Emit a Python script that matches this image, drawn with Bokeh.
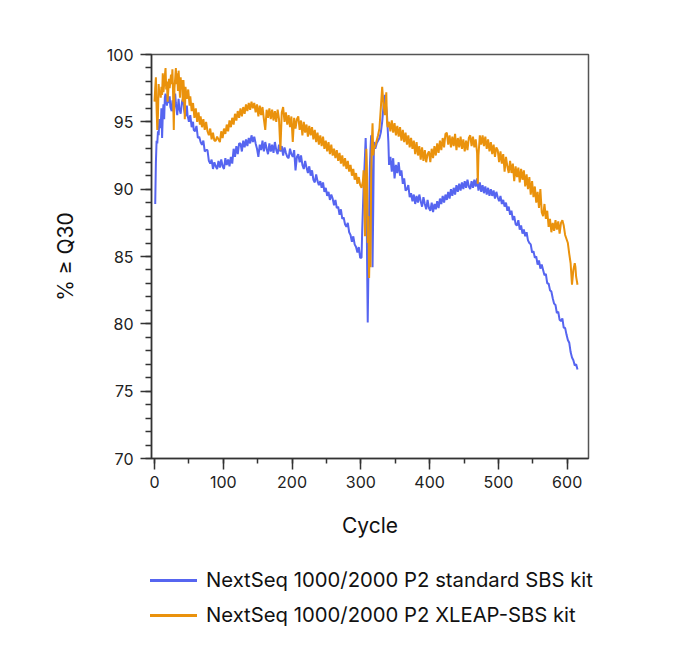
from bokeh.plotting import figure
from bokeh.layouts import column
from bokeh.models import Range1d, FixedTicker, Div
from bokeh.embed import file_html
from bokeh.resources import INLINE

# NextSeq 1000/2000 P2 standard SBS kit (blue): (cycle, % >= Q30)
std_points = [
    (1,88.9),(2,92.0),(3,93.6),(4,93.4),(5,94.3),(6,94.0),(7,95.2),(8,94.6),(9,94.6),(10,96.0),
    (11,93.8),(12,95.5),(13,96.3),(14,95.2),(15,96.8),(16,97.1),(18,96.2),(19,97.0),(20,96.4),(22,96.9),
    (23,96.1),(25,95.8),(26,96.6),(28,95.7),(30,97.1),(31,96.4),(33,95.5),(35,96.7),(36,96.0),(38,95.6),
    (40,96.5),(42,96.8),(43,95.9),(45,95.4),(47,96.2),(48,95.5),(50,95.0),(52,95.5),(54,94.6),(56,95.0),
    (57,94.4),(59,94.3),(61,94.7),(63,93.8),(65,93.9),(67,93.5),(69,93.3),(71,93.6),(73,92.8),(75,92.9),
    (77,92.9),(79,92.1),(81,91.9),(83,92.2),(85,91.5),(87,92.0),(89,91.7),(91,91.5),(93,92.1),(95,91.6),
    (97,92.2),(99,91.7),(101,91.5),(103,92.3),(105,91.8),(107,92.2),(109,91.7),(111,92.4),(113,91.9),(115,93.0),
    (117,92.4),(119,93.2),(121,92.6),(123,93.4),(125,93.4),(127,92.8),(129,93.6),(131,93.1),(133,93.7),(135,93.2),
    (137,93.8),(139,93.4),(141,94.0),(143,93.5),(145,93.9),(147,93.4),(149,93.0),(151,92.4),(153,93.3),(155,92.9),
    (157,93.6),(159,92.8),(161,93.5),(163,93.0),(165,92.6),(167,93.4),(169,92.8),(171,93.3),(173,92.7),(175,93.5),
    (177,92.9),(179,92.6),(181,93.3),(183,92.8),(185,93.2),(187,92.5),(189,93.1),(191,92.7),(193,92.4),(195,92.3),
    (197,93.0),(199,92.6),(201,92.4),(203,92.9),(205,91.4),(207,92.4),(209,92.6),(211,92.0),(213,92.5),(215,91.8),
    (217,91.5),(219,92.1),(221,91.6),(223,91.2),(225,91.7),(227,91.0),(229,91.4),(231,90.7),(233,90.5),(235,91.1),
    (237,90.6),(239,90.3),(241,90.6),(243,90.1),(245,90.5),(247,89.8),(249,90.1),(251,89.5),(253,89.8),(255,89.2),
    (257,89.6),(259,89.3),(261,88.8),(263,89.2),(265,88.6),(267,88.7),(269,88.1),(271,88.5),(273,87.8),(275,87.9),
    (277,87.4),(279,87.2),(281,87.5),(283,86.8),(285,86.6),(287,86.1),(289,86.5),(291,85.9),(293,85.7),(295,85.3),
    (297,85.7),(299,84.9),(301,84.9),(302,87.0),(304,90.1),(306,92.5),(307,93.8),(308,92.0),(309,85.0),(310,80.1),
    (311,84.0),(312,88.0),(313,91.5),(314,93.0),(315,94.0),(316,90.0),(317,84.2),(318,88.5),(319,93.5),(321,93.0),
    (323,93.4),(325,93.6),(327,93.8),(329,94.2),(331,95.0),(333,96.2),(335,97.0),(336,96.5),(338,95.5),(340,93.5),
    (341,91.8),(343,92.4),(345,91.3),(347,92.3),(349,90.8),(351,91.8),(353,91.2),(355,92.0),(357,91.0),(359,91.4),
    (361,90.4),(363,90.8),(365,89.9),(367,90.0),(369,90.3),(371,89.4),(373,89.7),(375,89.1),(377,89.6),(379,88.9),
    (381,89.5),(383,89.0),(385,89.6),(387,89.1),(389,88.7),(391,89.4),(393,88.9),(395,88.5),(397,89.2),(399,88.6),
    (401,88.4),(403,89.0),(405,88.3),(407,88.9),(409,88.5),(411,89.1),(413,88.6),(415,89.3),(417,88.9),(419,89.5),
    (421,89.0),(423,89.6),(425,89.2),(427,89.8),(429,89.3),(431,90.0),(433,89.5),(435,90.1),(437,89.6),(439,90.3),
    (441,89.8),(443,90.4),(445,89.9),(447,90.5),(449,90.0),(451,90.6),(453,90.1),(455,90.7),(457,90.2),(459,90.0),
    (461,90.6),(463,90.1),(465,90.7),(467,90.2),(469,90.8),(471,89.9),(473,90.5),(475,89.8),(477,90.3),(479,89.7),
    (481,90.2),(483,89.6),(485,90.1),(487,89.5),(489,90.0),(491,89.5),(493,89.9),(495,89.3),(497,89.8),(499,89.4),
    (501,89.1),(503,89.5),(505,88.9),(507,89.2),(509,88.7),(511,89.0),(513,88.4),(515,88.7),(517,88.1),(519,88.4),
    (521,87.7),(523,88.0),(525,87.4),(527,87.3),(529,87.7),(531,87.0),(533,87.3),(535,86.7),(537,87.0),(539,86.5),
    (541,86.8),(543,86.2),(545,86.0),(547,85.9),(549,85.3),(551,85.4),(553,84.9),(555,85.0),(557,84.4),(559,84.7),
    (561,84.1),(563,84.4),(565,84.0),(567,83.6),(569,83.7),(571,83.0),(573,83.0),(575,82.5),(577,82.4),(579,81.9),
    (581,81.5),(583,81.4),(585,80.8),(587,80.9),(589,80.3),(591,80.2),(593,80.4),(595,79.7),(597,79.7),(599,79.2),
    (601,78.8),(603,78.6),(605,77.9),(607,77.5),(609,77.3),(611,76.9),(613,77.0),(615,76.6),
]

# NextSeq 1000/2000 P2 XLEAP-SBS kit (orange): (cycle, % >= Q30)
xleap_points = [
    (0,96.5),(1,97.5),(2,98.3),(3,96.0),(4,94.4),(5,95.5),(6,97.8),(7,97.0),(8,97.3),(9,96.8),
    (10,97.6),(11,97.0),(12,98.6),(13,97.2),(14,97.8),(16,99.0),(17,97.4),(18,98.0),(19,96.5),(20,97.3),
    (21,98.2),(22,97.5),(24,98.5),(25,97.8),(26,98.9),(27,97.0),(28,94.4),(29,97.5),(30,98.2),(31,99.0),
    (32,97.8),(33,98.6),(34,97.3),(35,98.8),(36,97.9),(37,96.8),(38,98.3),(39,97.4),(40,98.1),(41,96.5),
    (42,98.1),(43,97.2),(44,95.2),(45,97.6),(47,96.7),(49,97.4),(51,96.2),(52,96.9),(54,95.8),(56,96.4),
    (58,95.3),(60,96.0),(62,95.0),(64,95.7),(66,94.8),(67,95.4),(69,94.6),(71,95.2),(73,94.4),(75,95.0),
    (77,94.3),(79,94.0),(81,94.5),(83,93.7),(85,94.2),(87,93.6),(89,93.6),(91,93.9),(93,93.7),(95,93.5),
    (97,94.3),(99,93.8),(101,94.5),(103,94.1),(105,94.8),(107,94.3),(109,95.1),(111,94.6),(113,95.3),(115,94.8),
    (117,95.6),(119,95.1),(121,95.8),(123,95.3),(125,96.0),(127,95.4),(129,96.1),(131,95.6),(133,96.3),(135,95.8),
    (137,96.4),(139,95.9),(141,96.5),(143,96.0),(145,96.4),(147,95.7),(149,96.3),(151,95.4),(153,96.2),(155,95.5),
    (157,96.1),(159,95.2),(161,94.4),(163,95.9),(165,95.3),(167,96.0),(169,95.2),(171,95.9),(173,95.1),(175,95.8),
    (177,95.0),(179,95.9),(181,95.2),(183,92.9),(185,95.7),(187,96.1),(189,95.0),(191,95.7),(193,94.8),(195,95.5),
    (197,94.6),(199,95.4),(201,93.5),(203,95.3),(205,94.5),(207,95.2),(209,95.4),(211,94.4),(213,95.1),(215,94.0),
    (217,95.0),(219,94.2),(221,94.8),(223,93.9),(225,94.7),(227,94.0),(229,94.6),(231,93.7),(233,94.4),(235,93.5),
    (237,94.2),(239,93.3),(241,94.0),(243,93.2),(245,93.9),(247,93.0),(249,93.6),(251,92.8),(253,93.5),(255,92.6),
    (257,93.3),(259,92.5),(261,93.0),(263,92.3),(265,92.9),(267,92.1),(269,92.7),(271,91.9),(273,92.5),(275,91.7),
    (277,92.3),(279,91.5),(281,92.1),(283,91.3),(285,91.8),(287,91.0),(289,91.5),(291,90.7),(293,91.2),(295,90.4),
    (297,90.9),(299,90.3),(301,90.1),(303,90.6),(304,91.4),(305,89.5),(306,86.5),(307,90.5),(308,93.0),(309,91.0),
    (310,86.0),(311,88.0),(312,83.4),(313,86.0),(314,84.2),(315,91.0),(316,93.5),(317,94.9),(318,92.5),(319,93.0),
    (321,93.2),(323,93.6),(325,94.0),(327,94.5),(329,96.0),(331,97.6),(333,96.2),(335,95.5),(337,97.2),(338,95.0),
    (339,94.6),(341,95.0),(343,94.3),(345,95.1),(347,94.2),(349,94.9),(351,94.0),(353,94.7),(355,93.9),(357,94.6),
    (359,93.6),(361,94.4),(363,93.5),(365,94.2),(367,93.3),(369,94.0),(371,93.1),(373,93.8),(375,93.0),(377,93.6),
    (379,92.6),(381,93.5),(383,92.5),(385,93.2),(387,92.2),(389,93.1),(391,92.1),(393,92.9),(395,92.0),(397,92.6),
    (399,92.8),(401,92.0),(403,93.0),(405,92.3),(407,93.2),(409,92.5),(411,93.4),(413,92.7),(415,93.6),(417,92.9),
    (419,93.8),(421,93.1),(423,94.1),(425,94.2),(427,93.3),(429,94.0),(431,93.1),(433,93.9),(435,93.2),(437,94.1),
    (439,92.9),(441,93.8),(443,93.1),(445,93.9),(447,93.0),(449,93.7),(451,92.8),(453,93.6),(455,92.9),(457,93.8),
    (459,94.0),(461,93.2),(463,93.9),(465,93.1),(467,93.7),(469,92.7),(470,90.4),(471,92.5),(473,94.0),(475,93.3),
    (477,94.0),(479,93.2),(481,93.9),(483,93.0),(485,93.7),(487,92.8),(489,93.5),(491,92.6),(493,93.3),(495,92.4),
    (497,93.1),(499,92.9),(501,92.0),(503,92.8),(505,91.9),(507,92.6),(509,91.3),(511,92.4),(513,91.7),(515,91.2),
    (517,92.1),(519,91.2),(521,91.9),(523,90.6),(525,91.7),(527,90.9),(529,91.6),(531,90.5),(533,91.5),(535,90.7),
    (537,91.4),(539,90.2),(541,91.1),(543,90.0),(545,90.9),(547,89.6),(549,90.6),(551,89.4),(553,90.2),(555,89.0),
    (557,89.8),(559,88.6),(561,90.0),(563,88.3),(565,88.0),(567,88.9),(569,87.8),(571,88.4),(573,87.2),(575,87.8),
    (577,86.8),(579,87.5),(581,86.9),(583,87.7),(585,87.0),(587,87.6),(589,86.7),(591,87.5),(593,87.7),(595,87.3),
    (597,86.6),(599,86.3),(601,86.0),(603,85.2),(605,84.5),(607,82.9),(609,84.0),(611,84.5),(612,84.2),(613,83.5),
    (615,82.9),
]

std_cycle = [c for c, _ in std_points]
std_q30 = [v for _, v in std_points]
xl_cycle = [c for c, _ in xleap_points]
xl_q30 = [v for _, v in xleap_points]

x_ticks = [0, 100, 200, 300, 400, 500, 600]
y_ticks = [70, 75, 80, 85, 90, 95, 100]
std_label = "NextSeq 1000/2000 P2 standard SBS kit"
xl_label = "NextSeq 1000/2000 P2 XLEAP-SBS kit"

FONT = "Inter"
BLUE = "#5665F0"
ORANGE = "#EA920C"

p = figure(width=664, height=548, output_backend="svg", toolbar_location=None,
           x_range=Range1d(-4.4, 631), y_range=Range1d(70, 100),
           min_border_left=151, min_border_right=76, min_border_top=54, min_border_bottom=90)

p.grid.visible = False
p.outline_line_color = "#555555"
p.outline_line_width = 1.5

p.line(std_cycle, std_q30, line_color=BLUE, line_width=2)
p.line(xl_cycle, xl_q30, line_color=ORANGE, line_width=2)

for ax in (p.xaxis[0], p.yaxis[0]):
    ax.axis_line_color = "#333333"
    ax.axis_line_width = 1.5
    ax.major_tick_line_color = "#333333"
    ax.minor_tick_line_color = "#333333"
    ax.major_tick_line_width = 1.5
    ax.minor_tick_line_width = 1.5
    ax.major_tick_in = 0
    ax.major_tick_out = 11
    ax.minor_tick_in = 0
    ax.major_label_text_font = FONT
    ax.major_label_text_font_size = "16px"
    ax.major_label_text_color = "#222222"
    ax.axis_label_text_font = FONT
    ax.axis_label_text_font_size = "21px"
    ax.axis_label_text_font_style = "normal"
    ax.axis_label_text_color = "#111111"

p.xaxis.ticker = FixedTicker(ticks=x_ticks, minor_ticks=list(range(0, 651, 50)))
p.yaxis.ticker = FixedTicker(ticks=y_ticks, minor_ticks=list(range(70, 101, 1)))
p.xaxis.minor_tick_out = 5
p.yaxis.minor_tick_out = 6
p.xaxis.major_label_standoff = 6
p.yaxis.major_label_standoff = 7
p.xaxis.axis_label = "Cycle"
p.yaxis.axis_label = "% ≥ Q30"
p.xaxis.axis_label_standoff = 22
p.yaxis.axis_label_standoff = 26

# Legend (series key) below the chart
def key_row(color, label, top):
    return (f'<div style="position:absolute;left:150px;top:{top}px;height:24px;'
            f'line-height:24px;white-space:nowrap;">'
            f'<span style="display:inline-block;width:47px;height:3px;background:{color};'
            f'vertical-align:middle;margin-right:9px;margin-top:-1px;"></span>{label}</div>')

legend_html = (f'<div style="position:relative;width:664px;height:94px;font-family:{FONT};'
               f'font-size:20.3px;color:#111111;">'
               + key_row(BLUE, std_label, 20) + key_row(ORANGE, xl_label, 55) + '</div>')
legend_div = Div(text=legend_html, width=664, height=94, margin=(0, 0, 0, 0))

open("out.html", "w").write(file_html(column(p, legend_div), INLINE))
